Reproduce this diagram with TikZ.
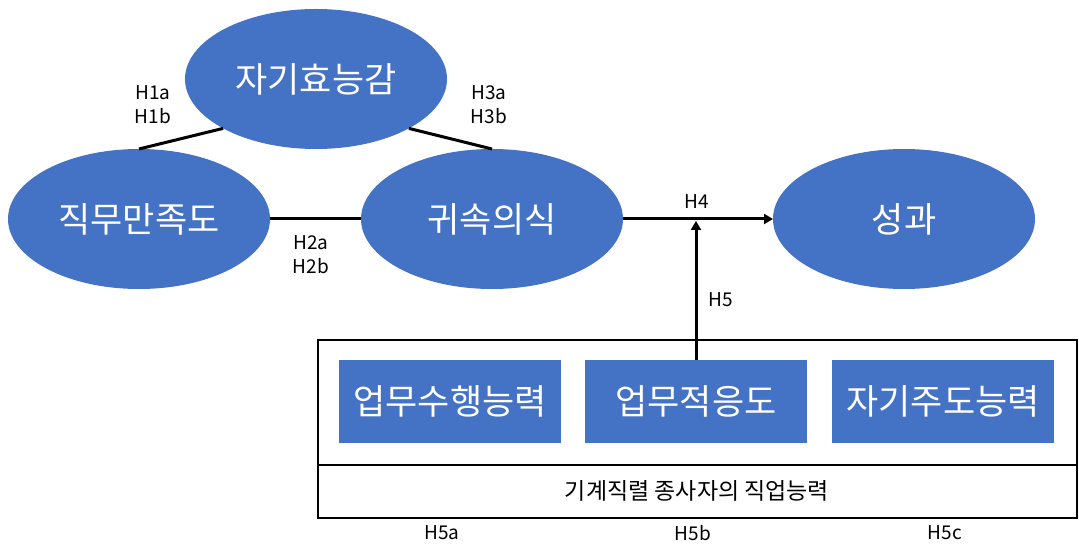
\documentclass[tikz,border=0pt]{standalone}
\usepackage{fontspec}
\setmainfont{Noto Sans CJK KR}
\usetikzlibrary{shapes.geometric,arrows.meta}
\definecolor{obl}{HTML}{4472C4}
\tikzset{
  oval/.style={ellipse, fill=obl, draw=none, minimum width=262pt, minimum height=140pt, inner sep=0pt, outer sep=0pt, text=white, font=\fontsize{35}{40}\selectfont},
  bluebox/.style={rectangle, fill=obl, draw=none, minimum width=222pt, minimum height=83pt, inner sep=0pt, outer sep=0pt, text=white, font=\fontsize{35}{40}\selectfont},
  hlab/.style={font=\fontsize{19}{24}\selectfont, inner sep=0pt, align=center},
  conn/.style={line width=3pt, black},
  arr/.style={line width=3pt, black, -{Triangle[length=9pt,width=10pt]}},
}
\begin{document}
\begin{tikzpicture}[x=1pt,y=-1pt]
\useasboundingbox (0,0) rectangle (1079,545);
\node[oval] (jh) at (316,79) {자기효능감};
\node[oval] (jm) at (139,219) {직무만족도};
\node[oval] (gs) at (492,219) {귀속의식};
\node[oval] (sg) at (904,219) {성과};
\draw[conn] (jm.north) -- (jh.-152);
\draw[conn] (jh.-28) -- (gs.north);
\draw[conn] (jm.east) -- (gs.west);
\draw[arr] (gs.east) -- (sg.west);
% outer frame
\draw[line width=2.2pt] (318,340) rectangle (1077,518);
\draw[line width=2.2pt] (318,465) -- (1077,465);
\node[bluebox] (b1) at (450,401) {업무수행능력};
\node[bluebox] (b2) at (696,401) {업무적응도};
\node[bluebox] (b3) at (943,401) {자기주도능력};
\coordinate (hit) at (696,221);
\draw[arr] (b2.north) -- (hit);
\node[font=\fontsize{23}{28}\selectfont, inner sep=0pt] (cap) at (697,491) {기계직렬 종사자의 직업능력};
\node[hlab] (l1) at (153,105) {H1a\\H1b};
\node[hlab] (l3) at (489,105) {H3a\\H3b};
\node[hlab] (l2) at (311,255) {H2a\\H2b};
\node[hlab] (l4) at (697,202) {H4};
\node[hlab] (l5) at (721,300) {H5};
\node[hlab] (l5a) at (442,533) {H5a};
\node[hlab] (l5b) at (693,533) {H5b};
\node[hlab] (l5c) at (945,533) {H5c};
\end{tikzpicture}
\end{document}
